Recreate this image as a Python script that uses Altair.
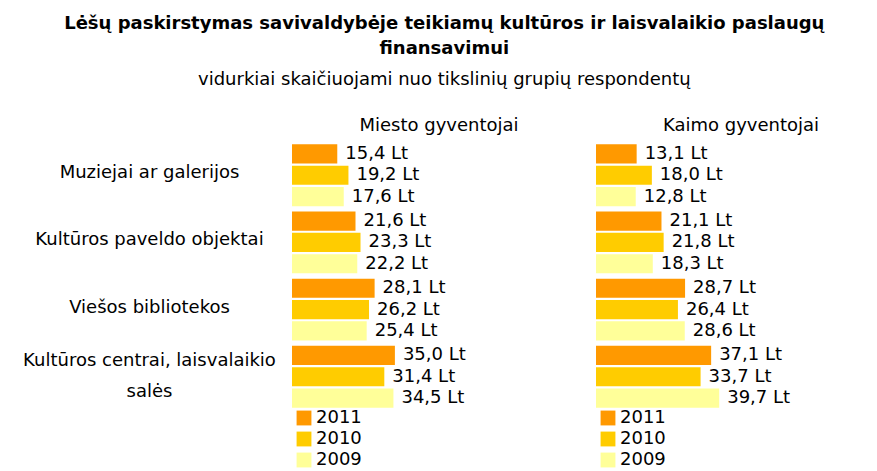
import altair as alt
import pandas as pd

categories = ["Muziejai ar galerijos", "Kultūros paveldo objektai", "Viešos bibliotekos",
              "Kultūros centrai, laisvalaikio salės"]
years = ["2011", "2010", "2009"]
colors = ["#FF9900", "#FFCC00", "#FFFF99"]

miesto_2011 = [15.4, 21.6, 28.1, 35.0]
miesto_2010 = [19.2, 23.3, 26.2, 31.4]
miesto_2009 = [17.6, 22.2, 25.4, 34.5]
kaimo_2011 = [13.1, 21.1, 28.7, 37.1]
kaimo_2010 = [18.0, 21.8, 26.4, 33.7]
kaimo_2009 = [12.8, 18.3, 28.6, 39.7]

FONT = "DejaVu Sans"
LONG = "Kultūros centrai, laisvalaikio salės"


def make_df(s2011, s2010, s2009):
    rows = []
    for yr, ser in zip(years, [s2011, s2010, s2009]):
        for c, v in zip(categories, ser):
            rows.append({"cat": c, "year": yr, "value": v,
                         "label": f"{v:.1f}".replace(".", ",") + " Lt"})
    return pd.DataFrame(rows)


def panel(df, title, width, xmax, show_axis, title_dx):
    if show_axis:
        yaxis = alt.Axis(title=None, ticks=False, tickSize=0, domain=False,
                         labelAlign="center", labelBaseline="middle", labelPadding=143,
                         labelFontSize=18, labelFont=FONT, labelColor="black",
                         labelLimit=400, labelLineHeight=31,
                         labelOffset={"condition": {"test": f"datum.value == '{LONG}'", "value": -16},
                                      "value": -2},
                         labelExpr=f"datum.label == '{LONG}' ? ['Kultūros centrai, laisvalaikio', 'salės'] : datum.label")
    else:
        yaxis = None
    base = alt.Chart(df).encode(
        y=alt.Y("cat:N", sort=categories,
                scale=alt.Scale(paddingInner=0.08, paddingOuter=0.02), axis=yaxis),
        yOffset=alt.YOffset("year:N", sort=years, scale=alt.Scale(paddingInner=0.1)),
        x=alt.X("value:Q", scale=alt.Scale(domain=[0, xmax]), axis=None),
    )
    bars = base.mark_bar().encode(
        color=alt.Color("year:N", sort=years,
                        scale=alt.Scale(domain=years, range=colors),
                        legend=alt.Legend(title=None, orient="none", legendX=3, legendY=266,
                                          direction="vertical", symbolType="square",
                                          symbolSize=220, symbolStrokeWidth=0,
                                          labelFontSize=18, labelFont=FONT,
                                          labelColor="black", rowPadding=3,
                                          labelOffset=3))
    )
    text = base.mark_text(align="left", baseline="middle", dx=8, fontSize=18,
                          font=FONT, color="black").encode(text="label:N")
    return alt.layer(bars, text).properties(
        width=width, height=266,
        title=alt.TitleParams(title, fontSize=18, font=FONT, fontWeight="normal",
                              color="black", anchor="middle", dx=title_dx, offset=8))


left = panel(make_df(miesto_2011, miesto_2010, miesto_2009), "Miesto gyventojai", 294, 100, True, 0)
right = panel(make_df(kaimo_2011, kaimo_2010, kaimo_2009), "Kaimo gyventojai", 270, 87, False, 10)

chart = alt.hconcat(left, right, spacing=10).resolve_scale(
    x="independent", y="independent", color="independent"
).resolve_legend(color="independent").properties(
    padding={"top": 7, "left": 14, "right": 0, "bottom": 0},
    title=alt.TitleParams(
        ["Lėšų paskirstymas savivaldybėje teikiamų kultūros ir laisvalaikio paslaugų", "finansavimui"],
        subtitle="vidurkiai skaičiuojami nuo tikslinių grupių respondentų",
        fontSize=18, fontWeight="bold", font=FONT, color="black", lineHeight=25,
        subtitleFont=FONT, subtitleFontSize=18, subtitleColor="black",
        subtitlePadding=13, anchor="middle", offset=28)
).configure_view(stroke=None)

chart.save("out.html", embed_options={"renderer": "svg", "actions": False})
